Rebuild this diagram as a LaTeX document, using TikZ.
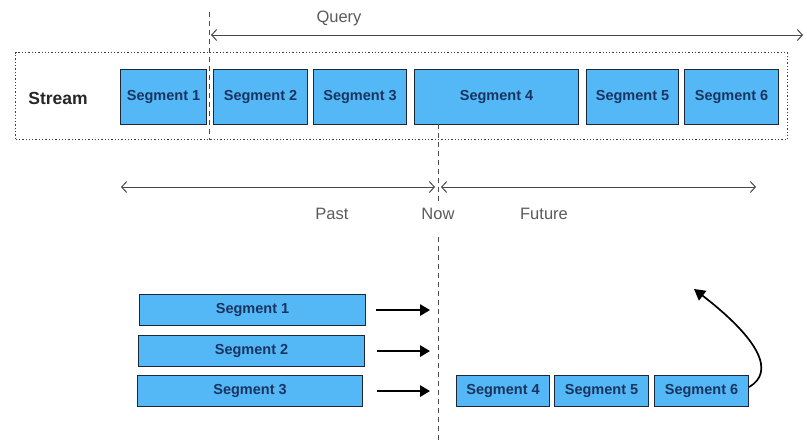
\documentclass[tikz,border=0pt]{standalone}
\usepackage{fontspec}
\setmainfont{Liberation Sans}
\usetikzlibrary{arrows.meta}
\definecolor{segfill}{RGB}{84,184,246}
\definecolor{segline}{RGB}{28,40,58}
\definecolor{segtext}{RGB}{26,52,96}
\definecolor{hand}{RGB}{90,90,90}
\tikzset{
  seg/.style={draw=segline, line width=1.1pt, fill=segfill, text=segtext,
    font=\bfseries\fontsize{14.5}{16}\selectfont, inner sep=0pt, anchor=north west},
  handtext/.style={text=hand, font=\fontsize{16.5}{18}\selectfont},
  span/.style={draw=hand!80!black, line width=1pt,
    {Straight Barb[length=5pt,width=11pt]}-{Straight Barb[length=5pt,width=11pt]}},
  marker/.style={draw=black!70, line width=0.8pt, dash pattern=on 5pt off 4pt},
  push/.style={draw=black, line width=2.6pt, -{Triangle[length=10pt,width=11pt]}},
  frame/.style={draw=black!75, line width=1.3pt, dotted}
}
\newcommand{\segbox}[6]{% name, x1, y1, x2, y2, text
  \node[seg, minimum width={#4-#2}, minimum height={#5-#3}] (#1) at (#2,#3) {#6};}
\begin{document}
\begin{tikzpicture}[x=1pt, y=-1pt]
\useasboundingbox (0,0) rectangle (807,440);

% stream frame
\node[frame, anchor=north west, minimum width=772, minimum height=87, inner sep=0pt] (stream) at (15,52) {};
\node[font=\bfseries\fontsize{17.5}{19}\selectfont, text=black!85] (streamlabel) at (58,98) {Stream};

% segments of the stream
\segbox{s1}{120}{69}{206}{124}{Segment 1}
\segbox{s2}{213}{69}{307}{124}{Segment 2}
\segbox{s3}{313}{69}{406}{124}{Segment 3}
\segbox{s4}{414}{69}{578}{124}{Segment 4}
\segbox{s5}{586}{69}{678}{124}{Segment 5}
\segbox{s6}{684}{69}{778}{124}{Segment 6}

% query range
\coordinate (qtop) at (209,12);
\coordinate (qbot) at (209,140);
\draw[marker] (qtop) -- (qbot);
\coordinate (qa) at (211,35);
\coordinate (qb) at (803,35);
\draw[span] (qa) -- (qb);
\node[handtext] (query) at (339,18) {Query};

% now marker
\coordinate (n0) at (438,124);
\coordinate (n1) at (438,201);
\coordinate (n2) at (438,237);
\coordinate (n3) at (438,440);
\draw[marker] (n0) -- (n1);
\draw[marker] (n2) -- (n3);

% past / future
\coordinate (pa) at (121,187);
\coordinate (pb) at (435,187);
\coordinate (fa) at (441,187);
\coordinate (fb) at (756,187);
\draw[span] (pa) -- (pb);
\draw[span] (fa) -- (fb);
\node[handtext] (past) at (332,214) {Past};
\node[handtext] (now) at (438,214) {Now};
\node[handtext] (future) at (544,214) {Future};

% segments after the split
\segbox{b1}{139}{294}{365}{325}{Segment 1}
\segbox{b2}{138}{335}{364}{366}{Segment 2}
\segbox{b3}{137}{375}{362}{406}{Segment 3}
\segbox{b4}{456}{375}{549}{406}{Segment 4}
\segbox{b5}{554}{375}{648}{406}{Segment 5}
\segbox{b6}{654}{375}{748}{406}{Segment 6}

\draw[push] ([xshift=10pt]b1.east) -- ([xshift=64pt]b1.east);
\draw[push] ([xshift=12pt]b2.east) -- ([xshift=65pt]b2.east);
\draw[push] ([xshift=14pt]b3.east) -- ([xshift=67pt]b3.east);

\coordinate (up) at (694,289);
\draw[draw=black, line width=1.7pt, -{Triangle[length=11pt,width=12pt]}]
  ([yshift=4pt]b6.east) .. controls (775,372) and (760,340) .. (up);
\end{tikzpicture}
\end{document}
